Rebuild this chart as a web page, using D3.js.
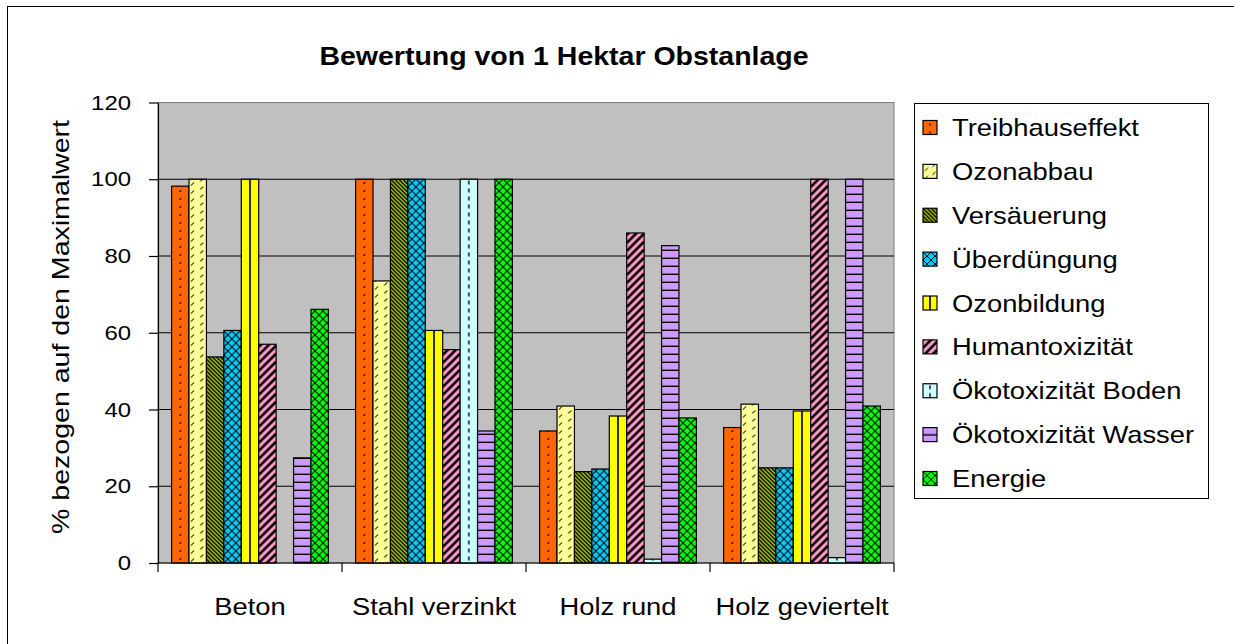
<!DOCTYPE html>
<html lang="de">

<head>
  <meta charset="UTF-8">
  <title>Bewertung von 1 Hektar Obstanlage</title>
  <script src="https://d3js.org/d3.v7.min.js"></script>
  <style>
    html,
    body {
      padding: 0;
      margin: 0;
      background: #fff;
    }

    text {
      font-family: "Liberation Sans", Arial, sans-serif;
      fill: #000;
    }
  </style>
</head>

<body>
  <script>
    const width = 1234;
    const height = 644;

    // data
    const categories = ["Beton", "Stahl verzinkt", "Holz rund", "Holz geviertelt"];
    const seriesNames = ["Treibhauseffekt", "Ozonabbau", "Versäuerung", "Überdüngung", "Ozonbildung",
      "Humantoxizität", "Ökotoxizität Boden", "Ökotoxizität Wasser", "Energie"];
    const treibhauseffekt = [98.2, 100, 34.4, 35.3];
    const ozonabbau = [100, 73.5, 40.9, 41.4];
    const versaeuerung = [53.7, 100, 23.8, 24.8];
    const ueberduengung = [60.6, 100, 24.5, 24.8];
    const ozonbildung = [100, 60.6, 38.3, 39.6];
    const humantoxizitaet = [57, 55.6, 86, 100];
    const oekotoxBoden = [0, 100, 1.0, 1.4];
    const oekotoxWasser = [27.4, 34.4, 82.7, 100];
    const energie = [66.1, 100, 37.8, 40.9];
    const yTicks = [0, 20, 40, 60, 80, 100, 120];

    const seriesValues = [treibhauseffekt, ozonabbau, versaeuerung, ueberduengung, ozonbildung,
      humantoxizitaet, oekotoxBoden, oekotoxWasser, energie];
    const colors = ["#ff6600", "#ffff99", "#a0c000", "#00ccff", "#ffff00",
      "#ff99cc", "#ccffff", "#cc99ff", "#00ff00"];

    const plot = { left: 158, right: 894, top: 102.5, bottom: 563 };
    const sx = 1.14; // the old font is wider than Arial

    const svg = d3.select("body").append("svg")
      .attr("width", width)
      .attr("height", height);
    const defs = svg.append("defs");

    // outer frame
    svg.append("rect")
      .attr("x", 7.5).attr("y", 6.5)
      .attr("width", 1300).attr("height", 700)
      .attr("fill", "#fff").attr("stroke", "#000");

    const x0 = d3.scaleBand().domain(categories).range([plot.left, plot.right]);
    const x1 = d3.scaleBand().domain(seriesNames).range([0, x0.bandwidth()]).paddingOuter(0.78);
    const y = d3.scaleLinear().domain([0, 120]).range([plot.bottom, plot.top]);
    const pitch = x1.bandwidth();
    const th = 8;

    // pattern tiles
    function drawTile(p, s, w, h) {
      p.append("rect").attr("width", w).attr("height", h).attr("fill", colors[s]);
      const line = (x1_, y1_, x2_, y2_, sw, col) => p.append("line")
        .attr("x1", x1_).attr("y1", y1_).attr("x2", x2_).attr("y2", y2_)
        .attr("stroke", col || "#000").attr("stroke-width", sw);
      if (s === 0) {
        p.append("circle").attr("cx", w / 2).attr("cy", h / 2).attr("r", 0.9).attr("fill", "#000");
      } else if (s === 1) {
        line(2, 6.5, 5, 3.5, 1);
        line(w / 2 + 2.5, 2.5, w / 2 + 5.5, -0.5, 1);
        line(w / 2 + 2.5, 10.5, w / 2 + 5.5, 7.5, 1);
      } else if (s === 2) {
        for (let k = -8; k <= 4; k++) line(0, k * 4, w, k * 4 + w, 1.3);
      } else if (s === 3 || s === 8) {
        for (let k = -4; k <= 5; k++) {
          line(0, k * 8, w, k * 8 + w, 1);
          line(0, k * 8, w, k * 8 - w, 1);
        }
      } else if (s === 4) {
        line(w / 2, 0, w / 2, h, 1.6);
      } else if (s === 5) {
        for (let k = -1; k <= 5; k++) line(0, k * 8, w, k * 8 - w, 2.6);
      } else if (s === 6) {
        line(w / 2, 1.5, w / 2, 5.5, 1.6, "#222");
      } else if (s === 7) {
        line(0, h - 0.7, w, h - 0.7, 1.4);
      }
    }

    function makePattern(id, s, px, py, w) {
      const p = defs.append("pattern")
        .attr("id", id)
        .attr("patternUnits", "userSpaceOnUse")
        .attr("x", px).attr("y", py)
        .attr("width", w).attr("height", th);
      drawTile(p, s, w, th);
      return `url(#${id})`;
    }

    // plot area
    svg.append("rect")
      .attr("x", plot.left).attr("y", plot.top)
      .attr("width", plot.right - plot.left).attr("height", plot.bottom - plot.top)
      .attr("fill", "#c0c0c0").attr("stroke", "#808080");

    svg.append("g")
      .selectAll("line")
      .data(yTicks.filter(d => d > 0 && d < 120))
      .join("line")
      .attr("x1", plot.left).attr("x2", plot.right)
      .attr("y1", d => y(d)).attr("y2", d => y(d))
      .attr("stroke", "#000").attr("stroke-width", 1.2);

    // bars
    const bars = [];
    categories.forEach((c, gi) => {
      seriesNames.forEach((name, si) => {
        bars.push({ c, gi, name, si, v: seriesValues[si][gi] });
      });
    });

    svg.append("g")
      .selectAll("rect")
      .data(bars.filter(d => d.v > 0))
      .join("rect")
      .attr("x", d => x0(d.c) + x1(d.name))
      .attr("y", d => y(d.v))
      .attr("width", pitch)
      .attr("height", d => y(0) - y(d.v))
      .attr("fill", d => makePattern(`p-${d.gi}-${d.si}`, d.si, x0(d.c) + x1(d.name), y(0), pitch))
      .attr("stroke", "#000")
      .attr("stroke-width", 1.2);

    // y axis
    const yAxis = svg.append("g")
      .attr("transform", `translate(${plot.left},0)`)
      .call(d3.axisLeft(y).tickValues(yTicks).tickSize(9).tickSizeOuter(0).tickPadding(18));
    yAxis.select(".domain").attr("stroke", "#000").attr("stroke-width", 1.2);
    yAxis.selectAll(".tick line").attr("stroke", "#000").attr("stroke-width", 1.2);
    yAxis.selectAll(".tick text")
      .style("font-size", "21px")
      .style("font-family", "'Liberation Sans', Arial, sans-serif")
      .each(function () {
        const t = d3.select(this);
        const tx = +t.attr("x");
        t.attr("x", 0).attr("transform", `translate(${tx},0) scale(${sx},1)`);
      });

    // x axis: line, ticks on the category borders, labels
    svg.append("line")
      .attr("x1", plot.left).attr("x2", plot.right)
      .attr("y1", plot.bottom).attr("y2", plot.bottom)
      .attr("stroke", "#000").attr("stroke-width", 1.2);

    const borders = categories.map(c => x0(c)).concat([x0.range()[1]]);
    svg.append("g")
      .selectAll("line")
      .data(borders)
      .join("line")
      .attr("x1", d => d).attr("x2", d => d)
      .attr("y1", plot.bottom).attr("y2", plot.bottom + 9)
      .attr("stroke", "#000").attr("stroke-width", 1.2);

    svg.append("g")
      .selectAll("text")
      .data(categories)
      .join("text")
      .attr("transform", d => `translate(${x0(d) + x0.bandwidth() / 2},615) scale(${sx},1)`)
      .attr("text-anchor", "middle")
      .style("font-size", "24px")
      .text(d => d);

    // title
    svg.append("text")
      .attr("transform", `translate(564,65) scale(${sx},1)`)
      .attr("text-anchor", "middle")
      .style("font-size", "25px")
      .style("font-weight", "bold")
      .text("Bewertung von 1 Hektar Obstanlage");

    // y axis title
    svg.append("text")
      .attr("transform", "translate(69,327) rotate(-90) scale(1.19,1)")
      .attr("text-anchor", "middle")
      .style("font-size", "24px")
      .text("% bezogen auf den Maximalwert");

    // legend
    const legend = svg.append("g");
    legend.append("rect")
      .attr("x", 914.5).attr("y", 103.5)
      .attr("width", 294).attr("height", 395)
      .attr("fill", "#fff").attr("stroke", "#000");

    const rowY = d3.scalePoint().domain(seriesNames).range([127.5, 478.5]);
    const items = legend.selectAll("g.item")
      .data(seriesNames)
      .join("g")
      .attr("class", "item");

    items.append("rect")
      .attr("x", 923).attr("y", d => rowY(d) - 7)
      .attr("width", 14).attr("height", 14)
      .attr("fill", (d, i) => makePattern(`lg-${i}`, i, 923, rowY(d) - 7, 14))
      .attr("stroke", "#000").attr("stroke-width", 1.2);

    items.append("text")
      .attr("transform", d => `translate(952,${rowY(d) + 8.5}) scale(${sx},1)`)
      .style("font-size", "24px")
      .text(d => d);
  </script>
</body>

</html>
